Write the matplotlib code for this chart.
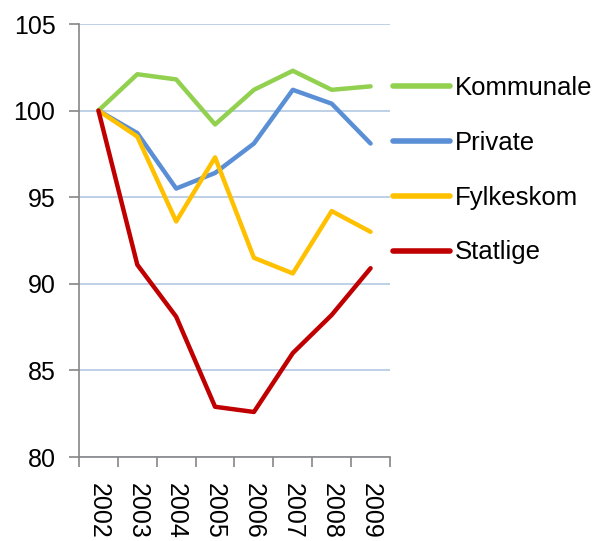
import matplotlib
matplotlib.use("Agg")
import matplotlib.pyplot as plt
from matplotlib.lines import Line2D

years = ["2002", "2003", "2004", "2005", "2006", "2007", "2008", "2009"]
kommunale = [100.0, 102.1, 101.8, 99.2, 101.2, 102.3, 101.2, 101.4]
private = [100.0, 98.7, 95.5, 96.4, 98.1, 101.2, 100.4, 98.1]
fylkeskom = [100.0, 98.5, 93.6, 97.3, 91.5, 90.6, 94.2, 93.0]
statlige = [100.0, 91.1, 88.1, 82.9, 82.6, 86.0, 88.2, 90.9]

series = [("Kommunale", kommunale, "#92D050"),
          ("Private", private, "#5A8FD5"),
          ("Fylkeskom", fylkeskom, "#FFC000"),
          ("Statlige", statlige, "#C00000")]

plt.rcParams['font.family'] = ['Liberation Sans', 'DejaVu Sans']

fig = plt.figure(figsize=(5.97, 5.41), dpi=100)
ax = fig.add_axes([79/597, 1-457/541, (390-79)/597, (457-24)/541])

x = list(range(len(years)))
for name, vals, col in series:
    ax.plot(x, vals, color=col, lw=3.2, solid_joinstyle='round', solid_capstyle='round', zorder=3)

ax.set_xlim(-0.5, len(years) - 0.5)
ax.set_ylim(80, 105)
ax.set_yticks([80, 85, 90, 95, 100, 105])
ax.yaxis.grid(True, color="#B9CDE5", lw=1.3)
ax.set_axisbelow(True)

ax.set_xticks(x)
ax.set_xticklabels(years, rotation=-90, fontsize=18)
ax.set_xticks([i - 0.5 for i in range(len(years) + 1)], minor=True)
ax.tick_params(axis='x', which='major', length=0, pad=18.5)
ax.tick_params(axis='x', which='minor', length=7, width=1.2, color="#868686", direction='out')
ax.tick_params(axis='y', length=7, width=1.2, color="#868686", pad=10, labelsize=18)

for s in ['top', 'right']:
    ax.spines[s].set_visible(False)
for s in ['left', 'bottom']:
    ax.spines[s].set_color("#868686")
    ax.spines[s].set_linewidth(1.2)

handles = [Line2D([0], [0], color=col, lw=4, solid_capstyle='round') for _, _, col in series]
labels = [name for name, _, _ in series]
leg = fig.legend(handles, labels, loc='upper left', bbox_to_anchor=(393/597, 1-76/541),
                 frameon=False, fontsize=18.5, handlelength=2.2, handletextpad=0.2,
                 labelspacing=1.2, borderaxespad=0, borderpad=0)

fig.savefig("out.png", dpi=100)
